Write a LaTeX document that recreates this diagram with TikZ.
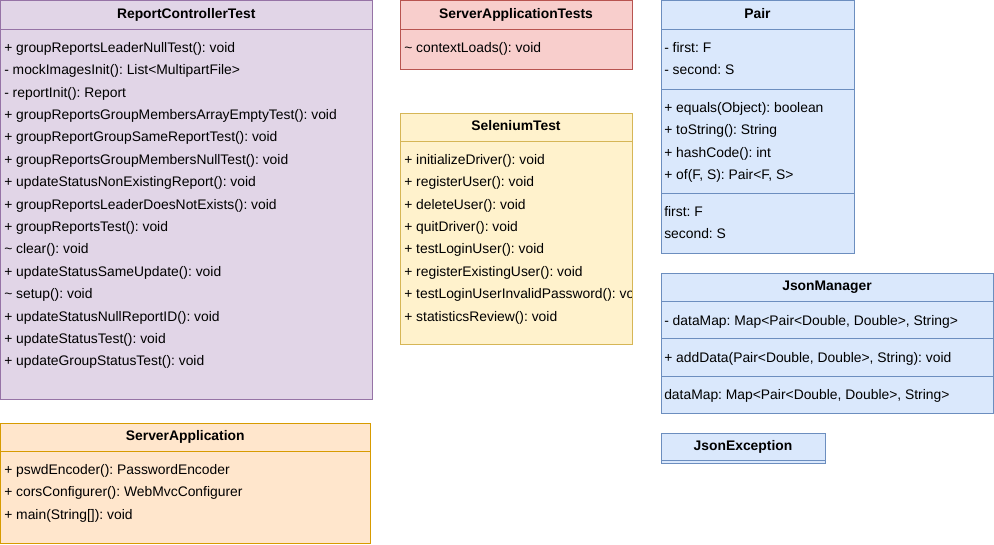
\documentclass[tikz,border=0pt]{standalone}
\usepackage{fontspec}
\setmainfont{Liberation Sans}
\frenchspacing
\definecolor{purplefill}{HTML}{E1D5E7}
\definecolor{purpleline}{HTML}{9673A6}
\definecolor{orangefill}{HTML}{FFE6CC}
\definecolor{orangeline}{HTML}{D79B00}
\definecolor{redfill}{HTML}{F8CECC}
\definecolor{redline}{HTML}{B85450}
\definecolor{yellowfill}{HTML}{FFF2CC}
\definecolor{yellowline}{HTML}{D6B656}
\definecolor{bluefill}{HTML}{DAE8FC}
\definecolor{blueline}{HTML}{6C8EBF}
\tikzset{
	classline/.style={line width=0.75pt},
	classtitle/.style={anchor=base, inner sep=0, font=\fontsize{10.4}{12.5}\selectfont\bfseries},
	member/.style={anchor=base west, inner sep=0, font=\fontsize{10.4}{12.5}\selectfont},
}
\newcommand\umlclass[8]{% name, colour, x1, y1, x2, y2, title, separators
	\draw[classline, fill=#2fill, draw=#2line] (#3,#4) rectangle (#5,#6);
	\foreach \sep in {#8}
		\draw[classline, draw=#2line] (#3,\sep) -- (#5,\sep);
	\node[classtitle] (#1) at ({(#3+#5)/2},{#4+17.5}) {#7};
}
\newcommand\umlrows[4]{% name, x, first row centre, rows
	\foreach \txt [count=\i] in {#4}{
		\pgfmathsetmacro\rowy{#3+5.3+22.4*(\i-1)}
		\node[member] (#1-\i) at (#2,\rowy) {\txt};
	}
}

\begin{document}
\begin{tikzpicture}[x=0.75pt, y=-0.75pt]
		\useasboundingbox (0,0) rectangle (994,544);

		\umlclass{rct}{purple}{0.5}{0.5}{372}{399.5}{ReportControllerTest}{29}
		\umlrows{rct}{4}{47}{
			+ groupReportsLeaderNullTest(): void,
			- mockImagesInit(): List<MultipartFile>,
			- reportInit(): Report,
			+ groupReportsGroupMembersArrayEmptyTest(): void,
			+ groupReportGroupSameReportTest(): void,
			+ groupReportsGroupMembersNullTest(): void,
			+ updateStatusNonExistingReport(): void,
			+ groupReportsLeaderDoesNotExists(): void,
			+ groupReportsTest(): void,
			\textasciitilde{} clear(): void,
			+ updateStatusSameUpdate(): void,
			\textasciitilde{} setup(): void,
			+ updateStatusNullReportID(): void,
			+ updateStatusTest(): void,
			+ updateGroupStatusTest(): void}

		\umlclass{srvapp}{orange}{0.5}{423}{370}{543.5}{ServerApplication}{451}
		\umlrows{srvapp}{4}{469}{
			+ pswdEncoder(): PasswordEncoder,
			+ corsConfigurer(): WebMvcConfigurer,
			+ main(String[]): void}

		\umlclass{srvtests}{red}{400}{0.5}{632}{69}{ServerApplicationTests}{29}
		\umlrows{srvtests}{404}{47}{\textasciitilde{} contextLoads(): void}

		\umlclass{selenium}{yellow}{400}{113}{632}{344}{SeleniumTest}{141}
		\begin{scope}
			\clip (400,113) rectangle (631.5,344);
			\umlrows{selenium}{404}{159}{
				+ initializeDriver(): void,
				+ registerUser(): void,
				+ deleteUser(): void,
				+ quitDriver(): void,
				+ testLoginUser(): void,
				+ registerExistingUser(): void,
				+ testLoginUserInvalidPassword(): void,
				+ statisticsReview(): void}
		\end{scope}

		\umlclass{pair}{blue}{661}{0.5}{854}{253}{Pair}{29,89,193}
		\umlrows{pair-a}{664}{47}{- first: F, - second: S}
		\umlrows{pair-b}{664}{107}{
			+ equals(Object): boolean,
			+ toString(): String,
			+ hashCode(): int,
			{+ of(F, S): Pair<F, S>}}
		\umlrows{pair-c}{664}{211}{first: F, second: S}

		\umlclass{json}{blue}{661}{273}{993}{413}{JsonManager}{301,338,376}
		\umlrows{json-a}{664}{320}{{- dataMap: Map<Pair<Double, Double>, String>}}
		\umlrows{json-b}{664}{357}{{+ addData(Pair<Double, Double>, String): void}}
		\umlrows{json-c}{664}{394}{{dataMap: Map<Pair<Double, Double>, String>}}

		\umlclass{jsonexc}{blue}{661}{433}{825}{463}{JsonException}{460}
	\end{tikzpicture}
\end{document}
